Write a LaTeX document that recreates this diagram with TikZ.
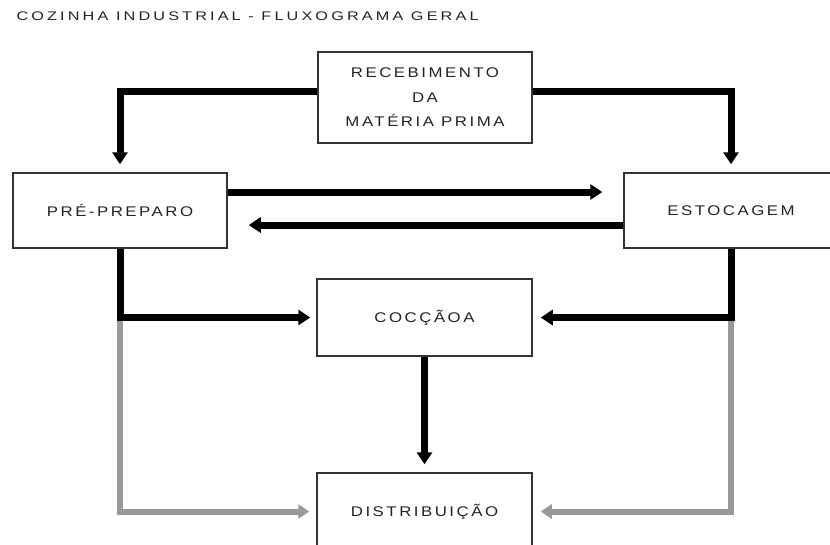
\documentclass[tikz,border=0pt]{standalone}
\usepackage{fontspec}
\usetikzlibrary{arrows.meta}
\newfontfamily\flowfont[FakeStretch=1.2,LetterSpace=18]{Liberation Sans}
\newfontfamily\titlefont[FakeStretch=1.3,LetterSpace=25]{Liberation Sans}
\definecolor{boxline}{HTML}{333333}
\definecolor{flowgray}{HTML}{999999}
\definecolor{flowtext}{HTML}{222222}

\begin{document}
\begin{tikzpicture}[x=1pt,y=-1pt,
    etapa/.style={draw=boxline,line width=1.5pt,fill=white,minimum width=214pt,inner sep=0pt,
      align=center,text=flowtext,font=\flowfont\fontsize{14}{24.5}\selectfont},
    fluxo/.style={line width=7pt,-{Triangle[length=12pt,width=15pt]}},
    fluxocinza/.style={line width=6pt,draw=flowgray,-{Triangle[length=11pt,width=14pt,fill=flowgray]}}]
    \useasboundingbox (0,0) rectangle (830,544);
    \node[anchor=west,text=flowtext,font=\titlefont\fontsize{12.5}{14}\selectfont] (titulo) at (13,16) {COZINHA INDUSTRIAL - FLUXOGRAMA GERAL};
    \node[etapa,minimum height=91pt] (recebimento) at (425,97.5) {RECEBIMENTO\\DA\\MATÉRIA PRIMA};
    \node[etapa,minimum height=75pt] (prepreparo) at (120,210.5) {PRÉ-PREPARO};
    \node[etapa,minimum height=75pt] (estocagem) at (731,210.5) {ESTOCAGEM};
    \node[etapa,minimum height=77pt,minimum width=215pt] (coccao) at (424.5,317.5) {COCÇÃOA};
    \node[etapa,minimum height=77pt,minimum width=215pt] (distribuicao) at (424.5,511.5) {DISTRIBUIÇÃO};
    \coordinate (jesq) at (prepreparo.south |- coccao.west);
    \coordinate (jdir) at (estocagem.south |- coccao.east);
    \draw[fluxocinza,shorten >=7pt] (jesq) |- (distribuicao.west);
    \draw[fluxocinza,shorten >=8pt] (jdir) |- (distribuicao.east);
    \draw[fluxo,shorten >=8pt] ([yshift=6.5pt]recebimento.west) -| (prepreparo.north);
    \draw[fluxo,shorten >=8pt] ([yshift=6.5pt]recebimento.east) -| (estocagem.north);
    \draw[fluxo,shorten >=21pt] ([yshift=18.5pt]prepreparo.east) -- ([yshift=18.5pt]estocagem.west);
    \draw[fluxo,shorten >=21pt] ([yshift=-14.5pt]estocagem.west) -- ([yshift=-14.5pt]prepreparo.east);
    \draw[fluxo,shorten >=6pt] (prepreparo.south) |- (coccao.west);
    \draw[fluxo,shorten >=8pt] (estocagem.south) |- (coccao.east);
    \draw[fluxo,shorten >=8pt] (coccao.south) -- (distribuicao.north);
\end{tikzpicture}
\end{document}
